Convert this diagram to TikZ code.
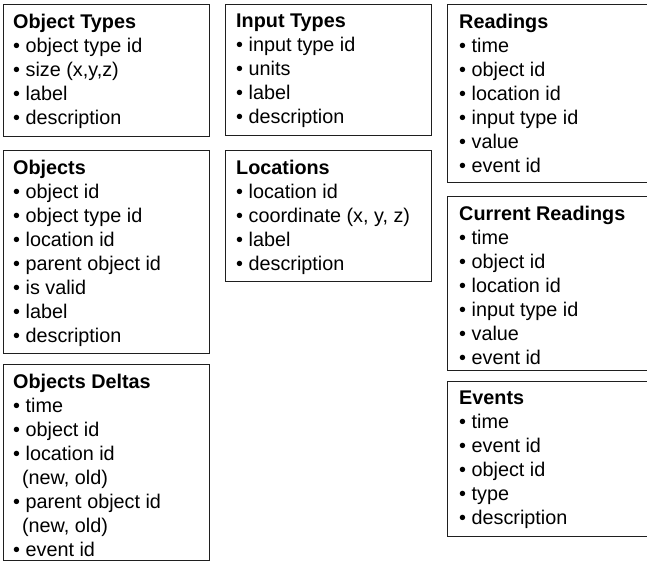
\documentclass[tikz,border=0pt]{standalone}
\usepackage{fontspec}
\setmainfont{Liberation Sans}
\usetikzlibrary{positioning}
\definecolor{boxline}{rgb}{0.12, 0.12, 0.12}

\tikzset{
  tblbox/.style={draw=boxline, line width=1.3pt, anchor=north west, inner sep=0pt, minimum width=206pt},
  fields/.style={anchor=north west, align=left, inner sep=0pt, font=\fontsize{19.8}{24}\selectfont},
}

\begin{document}
\begin{tikzpicture}[x=1pt, y=-1pt]
    \useasboundingbox (0, 0) rectangle (647, 568);
    \clip (0, 0) rectangle (647, 568);

    % left column
    \node [tblbox, minimum height=132pt] (otypes) at (3, 4) {};
    \node [fields] (otypes-f) at ([shift={(10pt, -10pt)}]otypes.north west)
      {\textbf{Object Types}\\• object type id\\• size (x,y,z)\\• label\\• description};

    \node [tblbox, minimum height=203pt] (objects) at (3, 150) {};
    \node [fields] (objects-f) at ([shift={(10pt, -10pt)}]objects.north west)
      {\textbf{Objects}\\• object id\\• object type id\\• location id\\• parent object id\\• is valid\\• label\\• description};

    \node [tblbox, minimum height=196pt] (deltas) at (3, 364) {};
    \node [fields] (deltas-f) at ([shift={(10pt, -10pt)}]deltas.north west)
      {\textbf{Objects Deltas}\\• time\\• object id\\• location id\\\hspace*{0.45em}(new, old)\\• parent object id\\\hspace*{0.45em}(new, old)\\• event id};

    % middle column
    \node [tblbox, minimum height=131pt] (itypes) at (225, 4) {};
    \node [fields] (itypes-f) at ([shift={(11pt, -10pt)}]itypes.north west)
      {\textbf{Input Types}\\• input type id\\• units\\• label\\• description};

    \node [tblbox, minimum height=131pt] (locations) at (225, 150) {};
    \node [fields] (locations-f) at ([shift={(11pt, -10pt)}]locations.north west)
      {\textbf{Locations}\\• location id\\• coordinate (x, y, z)\\• label\\• description};

    % right column (runs off the page)
    \node [tblbox, minimum height=178pt] (readings) at (447, 4) {};
    \node [fields] (readings-f) at ([shift={(12pt, -10pt)}]readings.north west)
      {\textbf{Readings}\\• time\\• object id\\• location id\\• input type id\\• value\\• event id};

    \node [tblbox, minimum height=174pt] (current) at (447, 196) {};
    \node [fields] (current-f) at ([shift={(12pt, -10pt)}]current.north west)
      {\textbf{Current Readings}\\• time\\• object id\\• location id\\• input type id\\• value\\• event id};

    \node [tblbox, minimum height=155pt] (events) at (447, 381) {};
    \node [fields] (events-f) at ([shift={(12pt, -10pt)}]events.north west)
      {\textbf{Events}\\• time\\• event id\\• object id\\• type\\• description};
  \end{tikzpicture}
\end{document}
